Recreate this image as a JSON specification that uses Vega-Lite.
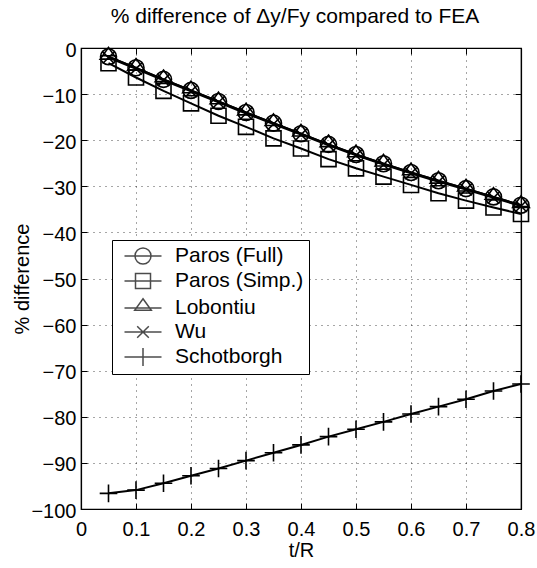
{
  "$schema": "https://vega.github.io/schema/vega-lite/v6.json",
  "width": 440,
  "height": 461,
  "autosize": {"type": "none"},
  "padding": {"left": 81, "top": 48, "right": 16, "bottom": 59},
  "background": "white",
  "title": {"text": "% difference of Δy/Fy compared to FEA", "fontSize": 21, "font": "Liberation Sans", "fontWeight": "normal", "color": "black", "offset": 13, "dx": -6},
  "config": {
    "view": {"stroke": "black", "strokeWidth": 1.2},
    "font": "Liberation Sans",
    "axis": {"labelFont": "Liberation Sans", "titleFont": "Liberation Sans", "labelFontSize": 20, "titleFontSize": 20, "labelColor": "black", "titleColor": "black", "titleFontWeight": "normal", "domainColor": "black", "tickColor": "black", "domainWidth": 1.2, "tickWidth": 1, "gridColor": "black", "gridDash": [1, 5], "gridOpacity": 0.7, "gridWidth": 1, "labelFlush": false, "labelOverlap": false}
  },
  "data": {"values": [
    {"x": 0.05, "y": -1.9, "series": "Paros (Full)"},
    {"x": 0.10, "y": -4.3, "series": "Paros (Full)"},
    {"x": 0.15, "y": -6.8, "series": "Paros (Full)"},
    {"x": 0.20, "y": -9.2, "series": "Paros (Full)"},
    {"x": 0.25, "y": -11.6, "series": "Paros (Full)"},
    {"x": 0.30, "y": -14.0, "series": "Paros (Full)"},
    {"x": 0.35, "y": -16.3, "series": "Paros (Full)"},
    {"x": 0.40, "y": -18.6, "series": "Paros (Full)"},
    {"x": 0.45, "y": -20.9, "series": "Paros (Full)"},
    {"x": 0.50, "y": -23.1, "series": "Paros (Full)"},
    {"x": 0.55, "y": -25.1, "series": "Paros (Full)"},
    {"x": 0.60, "y": -27.0, "series": "Paros (Full)"},
    {"x": 0.65, "y": -28.8, "series": "Paros (Full)"},
    {"x": 0.70, "y": -30.5, "series": "Paros (Full)"},
    {"x": 0.75, "y": -32.3, "series": "Paros (Full)"},
    {"x": 0.80, "y": -34.1, "series": "Paros (Full)"},
    {"x": 0.05, "y": -3.3, "series": "Paros (Simp.)"},
    {"x": 0.10, "y": -6.4, "series": "Paros (Simp.)"},
    {"x": 0.15, "y": -9.3, "series": "Paros (Simp.)"},
    {"x": 0.20, "y": -12.0, "series": "Paros (Simp.)"},
    {"x": 0.25, "y": -14.7, "series": "Paros (Simp.)"},
    {"x": 0.30, "y": -17.1, "series": "Paros (Simp.)"},
    {"x": 0.35, "y": -19.6, "series": "Paros (Simp.)"},
    {"x": 0.40, "y": -21.8, "series": "Paros (Simp.)"},
    {"x": 0.45, "y": -24.1, "series": "Paros (Simp.)"},
    {"x": 0.50, "y": -26.1, "series": "Paros (Simp.)"},
    {"x": 0.55, "y": -27.9, "series": "Paros (Simp.)"},
    {"x": 0.60, "y": -29.7, "series": "Paros (Simp.)"},
    {"x": 0.65, "y": -31.5, "series": "Paros (Simp.)"},
    {"x": 0.70, "y": -33.1, "series": "Paros (Simp.)"},
    {"x": 0.75, "y": -34.6, "series": "Paros (Simp.)"},
    {"x": 0.80, "y": -36.0, "series": "Paros (Simp.)"},
    {"x": 0.05, "y": -1.9, "series": "Lobontiu"},
    {"x": 0.10, "y": -4.3, "series": "Lobontiu"},
    {"x": 0.15, "y": -6.8, "series": "Lobontiu"},
    {"x": 0.20, "y": -9.2, "series": "Lobontiu"},
    {"x": 0.25, "y": -11.6, "series": "Lobontiu"},
    {"x": 0.30, "y": -14.0, "series": "Lobontiu"},
    {"x": 0.35, "y": -16.3, "series": "Lobontiu"},
    {"x": 0.40, "y": -18.6, "series": "Lobontiu"},
    {"x": 0.45, "y": -20.9, "series": "Lobontiu"},
    {"x": 0.50, "y": -23.1, "series": "Lobontiu"},
    {"x": 0.55, "y": -25.1, "series": "Lobontiu"},
    {"x": 0.60, "y": -27.0, "series": "Lobontiu"},
    {"x": 0.65, "y": -28.8, "series": "Lobontiu"},
    {"x": 0.70, "y": -30.5, "series": "Lobontiu"},
    {"x": 0.75, "y": -32.3, "series": "Lobontiu"},
    {"x": 0.80, "y": -34.1, "series": "Lobontiu"},
    {"x": 0.05, "y": -2.1, "series": "Wu"},
    {"x": 0.10, "y": -4.5, "series": "Wu"},
    {"x": 0.15, "y": -7.0, "series": "Wu"},
    {"x": 0.20, "y": -9.4, "series": "Wu"},
    {"x": 0.25, "y": -11.8, "series": "Wu"},
    {"x": 0.30, "y": -14.2, "series": "Wu"},
    {"x": 0.35, "y": -16.5, "series": "Wu"},
    {"x": 0.40, "y": -18.8, "series": "Wu"},
    {"x": 0.45, "y": -21.1, "series": "Wu"},
    {"x": 0.50, "y": -23.3, "series": "Wu"},
    {"x": 0.55, "y": -25.3, "series": "Wu"},
    {"x": 0.60, "y": -27.2, "series": "Wu"},
    {"x": 0.65, "y": -29.0, "series": "Wu"},
    {"x": 0.70, "y": -30.7, "series": "Wu"},
    {"x": 0.75, "y": -32.5, "series": "Wu"},
    {"x": 0.80, "y": -34.3, "series": "Wu"},
    {"x": 0.05, "y": -96.6, "series": "Schotborgh"},
    {"x": 0.10, "y": -95.9, "series": "Schotborgh"},
    {"x": 0.15, "y": -94.4, "series": "Schotborgh"},
    {"x": 0.20, "y": -92.8, "series": "Schotborgh"},
    {"x": 0.25, "y": -91.2, "series": "Schotborgh"},
    {"x": 0.30, "y": -89.5, "series": "Schotborgh"},
    {"x": 0.35, "y": -87.8, "series": "Schotborgh"},
    {"x": 0.40, "y": -86.1, "series": "Schotborgh"},
    {"x": 0.45, "y": -84.3, "series": "Schotborgh"},
    {"x": 0.50, "y": -82.7, "series": "Schotborgh"},
    {"x": 0.55, "y": -81.1, "series": "Schotborgh"},
    {"x": 0.60, "y": -79.4, "series": "Schotborgh"},
    {"x": 0.65, "y": -77.8, "series": "Schotborgh"},
    {"x": 0.70, "y": -76.2, "series": "Schotborgh"},
    {"x": 0.75, "y": -74.4, "series": "Schotborgh"},
    {"x": 0.80, "y": -72.9, "series": "Schotborgh"}
  ]},
  "layer": [
    {
      "mark": {"type": "line", "color": "black", "strokeWidth": 2, "clip": true},
      "encoding": {
        "x": {"field": "x", "type": "quantitative", "scale": {"domain": [0, 0.8], "nice": false, "zero": false},
              "axis": {"values": [0, 0.1, 0.2, 0.3, 0.4, 0.5, 0.6, 0.7, 0.8], "format": "~g", "title": "t/R", "grid": true, "tickSize": -6, "labelPadding": 16, "titlePadding": 1}},
        "y": {"field": "y", "type": "quantitative", "scale": {"domain": [-100, 0], "nice": false, "zero": false},
              "axis": {"values": [0, -10, -20, -30, -40, -50, -60, -70, -80, -90, -100], "format": "d", "title": "% difference", "grid": true, "tickSize": -6, "labelPadding": 11, "labelOffset": 2, "titlePadding": -2}},
        "detail": {"field": "series", "type": "nominal"}
      }
    },
    {
      "mark": {"type": "point", "filled": false, "color": "black", "strokeWidth": 1.6, "size": 256, "opacity": 1},
      "encoding": {
        "x": {"field": "x", "type": "quantitative", "scale": {"domain": [0, 0.8], "nice": false, "zero": false}, "axis": null},
        "y": {"field": "y", "type": "quantitative", "scale": {"domain": [-100, 0], "nice": false, "zero": false}, "axis": null},
        "shape": {"field": "series", "type": "nominal", "legend": null,
          "scale": {"domain": ["Paros (Full)", "Paros (Simp.)", "Lobontiu", "Wu", "Schotborgh"],
                    "range": ["M-1,0A1,1,0,1,1,1,0A1,1,0,1,1,-1,0Z", "M-0.94,-0.94H0.94V0.94H-0.94Z", "M0,-1.16L1.04,0.29H-1.04Z", "M-0.73,-0.73L0.73,0.73M-0.73,0.73L0.73,-0.73", "M-1.1,0H1.1M0,-1.1V1.1"]}}
      }
    },
    {
      "transform": [{"filter": "datum.x < 0"}],
      "mark": {"type": "point", "filled": false, "color": "black", "strokeWidth": 1.5, "size": 400},
      "encoding": {
        "x": {"field": "x", "type": "quantitative", "scale": {"domain": [0, 0.8], "nice": false, "zero": false}, "axis": null},
        "y": {"field": "y", "type": "quantitative", "scale": {"domain": [-100, 0], "nice": false, "zero": false}, "axis": null},
        "shape": {"field": "series", "type": "nominal",
          "scale": {"domain": ["Paros (Full)", "Paros (Simp.)", "Lobontiu", "Wu", "Schotborgh"],
                    "range": ["M-0.35,0H3.35M0.7,0A0.8,0.8,0,1,1,2.3,0A0.8,0.8,0,1,1,0.7,0", "M-0.35,0H3.35M0.75,-0.75H2.25V0.75H0.75Z", "M-0.35,0H3.35M1.5,-0.93L2.33,0.23H0.67Z", "M-0.35,0H3.35M0.92,-0.58L2.08,0.58M0.92,0.58L2.08,-0.58", "M-0.35,0H3.35M1.5,-0.9V0.9"]},
          "legend": {"title": null, "orient": "none", "legendX": 31, "legendY": 192, "strokeColor": "black", "fillColor": "white", "padding": 5, "symbolSize": 400, "symbolStrokeWidth": 1.5, "symbolStrokeColor": "black", "symbolFillColor": "transparent", "labelFontSize": 21, "labelFont": "Liberation Sans", "labelColor": "black", "labelOffset": 36, "rowPadding": 3}}
      }
    },
    {
      "transform": [{"filter": "datum.x < 0"}],
      "mark": {"type": "point"},
      "encoding": {
        "x": {"field": "x", "type": "quantitative", "scale": {"domain": [0, 0.8], "nice": false, "zero": false}, "axis": {"orient": "top", "values": [0, 0.1, 0.2, 0.3, 0.4, 0.5, 0.6, 0.7, 0.8], "labels": false, "grid": false, "title": null, "tickSize": -6}},
        "y": {"field": "y", "type": "quantitative", "scale": {"domain": [-100, 0], "nice": false, "zero": false}, "axis": {"orient": "right", "values": [0, -10, -20, -30, -40, -50, -60, -70, -80, -90, -100], "labels": false, "grid": false, "title": null, "tickSize": -6}}
      }
    }
  ],
  "resolve": {"scale": {"shape": "independent"}, "axis": {"x": "independent", "y": "independent"}}
}
